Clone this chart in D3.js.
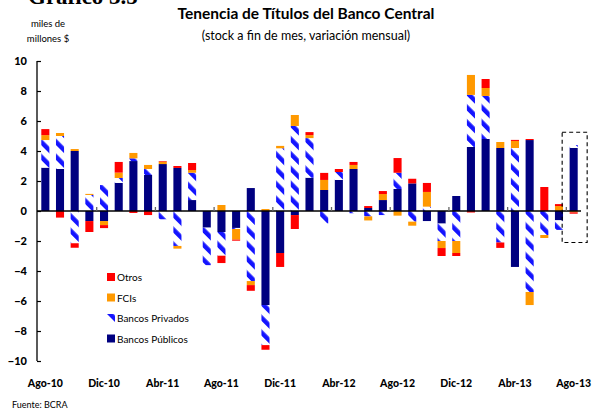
<!DOCTYPE html>
<html>
<head>
<meta charset="utf-8">
<script src="https://cdn.jsdelivr.net/npm/d3@7"></script>
<style>
    body { margin: 0; background: #fff; }
    svg { display: block; font-family: Lato, "Open Sans", sans-serif; }
</style>
</head>
<body>
<div id="dataChart"></div>
<script>
const months = ['Ago-10', 'Sep-10', 'Oct-10', 'Nov-10', 'Dic-10', 'Ene-11', 'Feb-11', 'Mar-11', 'Abr-11', 'May-11',
    'Jun-11', 'Jul-11', 'Ago-11', 'Sep-11', 'Oct-11', 'Nov-11', 'Dic-11', 'Ene-12', 'Feb-12', 'Mar-12',
    'Abr-12', 'May-12', 'Jun-12', 'Jul-12', 'Ago-12', 'Sep-12', 'Oct-12', 'Nov-12', 'Dic-12', 'Ene-13',
    'Feb-13', 'Mar-13', 'Abr-13', 'May-13', 'Jun-13', 'Jul-13', 'Ago-13'];
const tickMonths = ['Ago-10', 'Dic-10', 'Abr-11', 'Ago-11', 'Dic-11', 'Abr-12', 'Ago-12', 'Dic-12', 'Abr-13', 'Ago-13'];
const yTicks = [-10, -8, -6, -4, -2, 0, 2, 4, 6, 8, 10];

const bancosPublicos = [2.89, 2.8, 4.0, -0.67, -0.67, 1.87, 3.33, 2.4, 3.13, 2.87,
    0.73, -1.11, -1.4, -1.13, 1.53, -6.27, -2.8, -0.27, 2.22, 1.4,
    2.07, 2.8, 0.2, 0.73, 1.47, 1.84, -0.67, -0.84, 1.0, 4.27,
    4.8, 4.2, -3.73, 4.73, 0, -0.62, 4.2];
const bancosPrivados = [1.84, 2.2, -2.15, 1.07, 1.73, 0.33, 0.18, 0.4, -0.55, -2.33,
    1.82, -2.5, -1.58, -0.07, -4.67, -2.67, 4.18, 5.67, 2.64, -0.83,
    0.53, -0.15, -0.36, -0.27, 1.08, -0.71, 0.29, -1.16, -2.0, 3.47,
    2.87, -2.1, 4.2, -5.4, -1.6, -0.64, 0.2];
const fcis = [0.33, 0.2, 0.13, 0.07, -0.27, 0.36, 0.36, 0.27, 0.16, -0.18,
    0.18, 0, 0.4, -0.71, -0.27, 0.13, 0.16, 0.73, 0.2, 0.67,
    0, 0.27, -0.27, 0.4, -0.31, -0.27, 0.98, -0.47, -0.8, 1.33,
    0.53, 0.4, 0.47, -0.87, -0.2, 0.33, -0.09];
const otros = [0.4, -0.44, -0.3, -0.73, -0.2, 0.71, -0.13, -0.27, 0.04, 0.13,
    0.47, 0, -0.49, -0.07, -0.38, -0.31, -0.93, -0.93, 0.2, 0.47,
    0.2, 0.2, 0.13, 0.2, 0.98, 0.31, 0.6, -0.53, -0.2, -0.1,
    0.6, -0.36, 0.07, 0.07, 1.6, 0.13, -0.09];

const seriesKeys = ['publicos', 'privados', 'fcis', 'otros'];
const seriesNames = { publicos: 'Bancos Públicos', privados: 'Bancos Privados', fcis: 'FCIs', otros: 'Otros' };
const highlightMonth = 'Ago-13';

document.addEventListener('DOMContentLoaded', () => {
    const width = 592
    const height = 410

    const svg = d3.select('#dataChart')
        .append('svg')
        .attr('width', width)
        .attr('height', height)
        .attr('viewBox', [0, 0, width, height]);

    // striped fill for Bancos Privados
    const pattern = svg.append('defs')
        .append('pattern')
        .attr('id', 'stripes')
        .attr('patternUnits', 'userSpaceOnUse')
        .attr('width', 10.5)
        .attr('height', 10)
        .attr('patternTransform', 'rotate(-45)');
    pattern.append('rect')
        .attr('width', 10.5)
        .attr('height', 10)
        .attr('fill', '#fff');
    pattern.append('rect')
        .attr('width', 4.5)
        .attr('height', 10)
        .attr('fill', '#1414ff');

    const colours = { publicos: '#000080', privados: 'url(#stripes)', fcis: '#ff9900', otros: '#ff0000' };

    const rows = months.map((m, i) => ({
        month: m,
        publicos: bancosPublicos[i],
        privados: bancosPrivados[i],
        fcis: fcis[i],
        otros: otros[i]
    }));

    const stackedData = d3.stack()
        .keys(seriesKeys)
        .offset(d3.stackOffsetDiverging)(rows);

    const xAxis = d3.scaleBand()
        .domain(months)
        .range([38, 581])
        .paddingInner(0.45)
        .paddingOuter(0.225);
    const yAxis = d3.scaleLinear()
        .domain([-10, 10])
        .range([361, 61]);

    // titles
    svg.append('text')
        .attr('x', 28)
        .attr('y', 4)
        .attr('font-family', '"Liberation Serif", serif')
        .attr('font-weight', 'bold')
        .attr('font-size', 23)
        .text('Gráfico 3.5');
    svg.append('text')
        .attr('x', 306)
        .attr('y', 19)
        .attr('text-anchor', 'middle')
        .attr('font-weight', 'bold')
        .attr('font-size', 15.5)
        .text('Tenencia de Títulos del Banco Central');
    svg.append('text')
        .attr('x', 306)
        .attr('y', 40)
        .attr('text-anchor', 'middle')
        .attr('font-size', 12.5)
        .text('(stock a fin de mes, variación mensual)');
    svg.append('text')
        .attr('x', 48)
        .attr('y', 27)
        .attr('text-anchor', 'middle')
        .attr('font-size', 9.5)
        .text('miles de');
    svg.append('text')
        .attr('x', 48)
        .attr('y', 42)
        .attr('text-anchor', 'middle')
        .attr('font-size', 9.5)
        .text('millones $');

    // bars
    svg.append('g')
        .selectAll('g')
        .data(stackedData)
        .enter()
        .append('g')
        .attr('fill', d => colours[d.key])
        .selectAll('rect')
        .data(d => d)
        .enter()
        .append('rect')
        .attr('x', d => xAxis(d.data.month))
        .attr('y', d => yAxis(Math.max(d[0], d[1])))
        .attr('width', xAxis.bandwidth())
        .attr('height', d => Math.abs(yAxis(d[0]) - yAxis(d[1])));

    // y axis
    const yG = svg.append('g')
        .attr('transform', 'translate(37, 0)')
        .call(d3.axisRight(yAxis).tickValues(yTicks).tickSize(4).tickFormat(d3.format('d')));
    yG.select('.domain').attr('stroke', '#000').attr('stroke-width', 1.3).attr('d', `M0,${yAxis(10)}V${yAxis(-10)}`);
    yG.selectAll('.tick line').attr('stroke', '#000').attr('stroke-width', 1.2);
    yG.selectAll('.tick text')
        .attr('x', -10)
        .attr('text-anchor', 'end')
        .attr('font-family', 'Lato, sans-serif')
        .attr('font-weight', 900)
        .attr('font-size', 11)
        .attr('fill', '#000');

    // zero line with month ticks
    svg.append('line')
        .attr('x1', 37)
        .attr('x2', xAxis.range()[1])
        .attr('y1', yAxis(0))
        .attr('y2', yAxis(0))
        .attr('stroke', '#000')
        .attr('stroke-width', 1.5);
    svg.append('g')
        .selectAll('line')
        .data(tickMonths.slice(1))
        .enter()
        .append('line')
        .attr('x1', d => xAxis(d) - xAxis.step() * xAxis.paddingInner() / 2)
        .attr('x2', d => xAxis(d) - xAxis.step() * xAxis.paddingInner() / 2)
        .attr('y1', yAxis(0) - 4)
        .attr('y2', yAxis(0))
        .attr('stroke', '#666')
        .attr('stroke-width', 1.3);

    svg.append('g')
        .selectAll('text')
        .data(tickMonths)
        .enter()
        .append('text')
        .attr('x', d => xAxis(d) + xAxis.bandwidth() / 2)
        .attr('y', 387)
        .attr('text-anchor', 'middle')
        .attr('font-weight', 900)
        .attr('font-size', 10.5)
        .text(d => d);

    // dashed box around last month
    const hx = xAxis(highlightMonth) + xAxis.bandwidth() / 2;
    svg.append('rect')
        .attr('x', hx - 11.5)
        .attr('y', yAxis(5.25))
        .attr('width', 25)
        .attr('height', yAxis(-2.1) - yAxis(5.25))
        .attr('fill', 'none')
        .attr('stroke', '#000')
        .attr('stroke-width', 1.1)
        .attr('stroke-dasharray', '4,3');

    // legend
    const legend = svg.append('g')
        .selectAll('g')
        .data(seriesKeys.slice().reverse())
        .enter()
        .append('g')
        .attr('transform', (d, i) => `translate(107, ${273 + i * 20.5})`);
    legend.append('rect')
        .attr('width', 8)
        .attr('height', 8)
        .attr('fill', d => colours[d]);
    legend.append('text')
        .attr('x', 10)
        .attr('y', 8)
        .attr('font-size', 10)
        .text(d => seriesNames[d]);

    svg.append('text')
        .attr('x', 12)
        .attr('y', 408)
        .attr('font-size', 9)
        .text('Fuente: BCRA');
});
</script>
</body>
</html>
